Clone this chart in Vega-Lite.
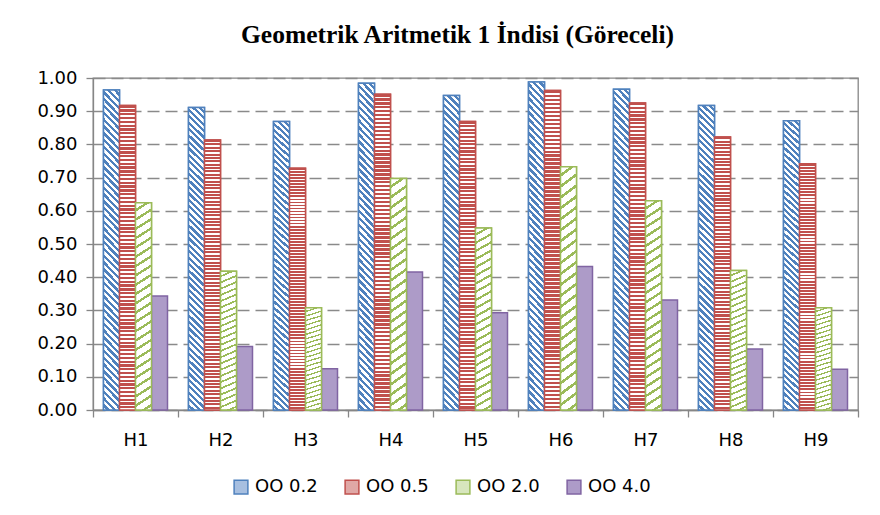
{
"$schema": "https://vega.github.io/schema/vega-lite/v6.json",
"width": 765, "height": 332,
"autosize": "none",
"padding": {"left": 93, "top": 78, "right": 22, "bottom": 105},
"background": "white",
"title": {"text": "Geometrik Aritmetik 1 İndisi (Göreceli)", "font": "Liberation Serif", "fontSize": 25.5, "fontWeight": "bold", "color": "black", "anchor": "middle", "dx": -18, "offset": 21},
"data": {"values": [
{"h":"H1","s":"OO 0.2","v":0.964},{"h":"H1","s":"OO 0.5","v":0.917},{"h":"H1","s":"OO 2.0","v":0.624},{"h":"H1","s":"OO 4.0","v":0.343},
{"h":"H2","s":"OO 0.2","v":0.911},{"h":"H2","s":"OO 0.5","v":0.813},{"h":"H2","s":"OO 2.0","v":0.418},{"h":"H2","s":"OO 4.0","v":0.191},
{"h":"H3","s":"OO 0.2","v":0.869},{"h":"H3","s":"OO 0.5","v":0.728},{"h":"H3","s":"OO 2.0","v":0.308},{"h":"H3","s":"OO 4.0","v":0.124},
{"h":"H4","s":"OO 0.2","v":0.984},{"h":"H4","s":"OO 0.5","v":0.951},{"h":"H4","s":"OO 2.0","v":0.697},{"h":"H4","s":"OO 4.0","v":0.416},
{"h":"H5","s":"OO 0.2","v":0.947},{"h":"H5","s":"OO 0.5","v":0.869},{"h":"H5","s":"OO 2.0","v":0.548},{"h":"H5","s":"OO 4.0","v":0.293},
{"h":"H6","s":"OO 0.2","v":0.988},{"h":"H6","s":"OO 0.5","v":0.962},{"h":"H6","s":"OO 2.0","v":0.733},{"h":"H6","s":"OO 4.0","v":0.432},
{"h":"H7","s":"OO 0.2","v":0.966},{"h":"H7","s":"OO 0.5","v":0.925},{"h":"H7","s":"OO 2.0","v":0.630},{"h":"H7","s":"OO 4.0","v":0.331},
{"h":"H8","s":"OO 0.2","v":0.917},{"h":"H8","s":"OO 0.5","v":0.822},{"h":"H8","s":"OO 2.0","v":0.420},{"h":"H8","s":"OO 4.0","v":0.184},
{"h":"H9","s":"OO 0.2","v":0.871},{"h":"H9","s":"OO 0.5","v":0.742},{"h":"H9","s":"OO 2.0","v":0.308},{"h":"H9","s":"OO 4.0","v":0.123}
]},
"encoding": {
"x": {"field": "h", "type": "nominal", "title": null, "scale": {"paddingInner": 0, "paddingOuter": 0},
 "axis": {"labelAngle": 0, "tickBand": "extent", "labelPadding": 14, "tickSize": 7, "domainColor": "#868686", "tickColor": "#868686", "domainWidth": 1.3, "tickWidth": 1.3, "labelFont": "DejaVu Sans", "labelFontSize": 18, "labelColor": "black", "grid": false}},
"xOffset": {"field": "s", "type": "nominal", "scale": {"domain": ["OO 0.2","OO 0.5","OO 2.0","OO 4.0"], "paddingInner": 0, "paddingOuter": 0.656}},
"y": {"field": "v", "type": "quantitative", "title": null, "scale": {"domain": [0, 1], "nice": false},
 "axis": {"values": [0,0.1,0.2,0.3,0.4,0.5,0.6,0.7,0.8,0.9,1], "format": ".2f", "grid": true, "gridDash": [12, 6], "gridColor": "#8a8a8a", "gridWidth": 1.5, "tickSize": 7, "labelPadding": 9, "domainColor": "#868686", "tickColor": "#868686", "domainWidth": 1.3, "tickWidth": 1.3, "labelFont": "DejaVu Sans", "labelFontSize": 18, "labelColor": "black"}}
},
"layer": [
{"mark": {"type": "bar", "strokeWidth": 1.5},
 "encoding": {
  "fill": {"field": "s", "type": "nominal", "scale": {"domain": ["OO 0.2","OO 0.5","OO 2.0","OO 4.0"], "range": ["#a7bfe0","#e0a8a6","#d7e6bd","#ad9bc8"]},
   "legend": {"title": null, "orient": "none", "legendX": 139, "legendY": 400, "direction": "horizontal", "symbolType": "square", "symbolSize": 190, "symbolStrokeWidth": 1.5, "labelFont": "DejaVu Sans", "labelFontSize": 18, "labelColor": "black", "columnPadding": 24, "labelOffset": 5}},
  "stroke": {"field": "s", "type": "nominal", "scale": {"domain": ["OO 0.2","OO 0.5","OO 2.0","OO 4.0"], "range": ["#4f81bd","#c0504d","#9bbb59","#8064a2"]},
   "legend": {"title": null, "orient": "none", "legendX": 139, "legendY": 400, "direction": "horizontal", "symbolType": "square", "symbolSize": 190, "symbolStrokeWidth": 1.5, "labelFont": "DejaVu Sans", "labelFontSize": 18, "labelColor": "black", "columnPadding": 24, "labelOffset": 5}}
 }},
{"transform": [{"filter": "datum.s === 'OO 0.2'"}],
 "mark": {"type": "bar", "strokeWidth": 1.5, "stroke": "#4f81bd", "fill": {"gradient": "linear", "x1": 0.055, "y1": -0.06, "x2": 0, "y2": 1, "stops": [
{"offset":0,"color":"#4f81bd"},{"offset":0.01,"color":"#4f81bd"},{"offset":0.01,"color":"#fff"},{"offset":0.02,"color":"#fff"},
{"offset":0.02,"color":"#4f81bd"},{"offset":0.03,"color":"#4f81bd"},{"offset":0.03,"color":"#fff"},{"offset":0.04,"color":"#fff"},
{"offset":0.04,"color":"#4f81bd"},{"offset":0.05,"color":"#4f81bd"},{"offset":0.05,"color":"#fff"},{"offset":0.06,"color":"#fff"},
{"offset":0.06,"color":"#4f81bd"},{"offset":0.07,"color":"#4f81bd"},{"offset":0.07,"color":"#fff"},{"offset":0.08,"color":"#fff"},
{"offset":0.08,"color":"#4f81bd"},{"offset":0.09,"color":"#4f81bd"},{"offset":0.09,"color":"#fff"},{"offset":0.10,"color":"#fff"},
{"offset":0.10,"color":"#4f81bd"},{"offset":0.11,"color":"#4f81bd"},{"offset":0.11,"color":"#fff"},{"offset":0.12,"color":"#fff"},
{"offset":0.12,"color":"#4f81bd"},{"offset":0.13,"color":"#4f81bd"},{"offset":0.13,"color":"#fff"},{"offset":0.14,"color":"#fff"},
{"offset":0.14,"color":"#4f81bd"},{"offset":0.15,"color":"#4f81bd"},{"offset":0.15,"color":"#fff"},{"offset":0.16,"color":"#fff"},
{"offset":0.16,"color":"#4f81bd"},{"offset":0.17,"color":"#4f81bd"},{"offset":0.17,"color":"#fff"},{"offset":0.18,"color":"#fff"},
{"offset":0.18,"color":"#4f81bd"},{"offset":0.19,"color":"#4f81bd"},{"offset":0.19,"color":"#fff"},{"offset":0.20,"color":"#fff"},
{"offset":0.20,"color":"#4f81bd"},{"offset":0.21,"color":"#4f81bd"},{"offset":0.21,"color":"#fff"},{"offset":0.22,"color":"#fff"},
{"offset":0.22,"color":"#4f81bd"},{"offset":0.23,"color":"#4f81bd"},{"offset":0.23,"color":"#fff"},{"offset":0.24,"color":"#fff"},
{"offset":0.24,"color":"#4f81bd"},{"offset":0.25,"color":"#4f81bd"},{"offset":0.25,"color":"#fff"},{"offset":0.26,"color":"#fff"},
{"offset":0.26,"color":"#4f81bd"},{"offset":0.27,"color":"#4f81bd"},{"offset":0.27,"color":"#fff"},{"offset":0.28,"color":"#fff"},
{"offset":0.28,"color":"#4f81bd"},{"offset":0.29,"color":"#4f81bd"},{"offset":0.29,"color":"#fff"},{"offset":0.30,"color":"#fff"},
{"offset":0.30,"color":"#4f81bd"},{"offset":0.31,"color":"#4f81bd"},{"offset":0.31,"color":"#fff"},{"offset":0.32,"color":"#fff"},
{"offset":0.32,"color":"#4f81bd"},{"offset":0.33,"color":"#4f81bd"},{"offset":0.33,"color":"#fff"},{"offset":0.34,"color":"#fff"},
{"offset":0.34,"color":"#4f81bd"},{"offset":0.35,"color":"#4f81bd"},{"offset":0.35,"color":"#fff"},{"offset":0.36,"color":"#fff"},
{"offset":0.36,"color":"#4f81bd"},{"offset":0.37,"color":"#4f81bd"},{"offset":0.37,"color":"#fff"},{"offset":0.38,"color":"#fff"},
{"offset":0.38,"color":"#4f81bd"},{"offset":0.39,"color":"#4f81bd"},{"offset":0.39,"color":"#fff"},{"offset":0.40,"color":"#fff"},
{"offset":0.40,"color":"#4f81bd"},{"offset":0.41,"color":"#4f81bd"},{"offset":0.41,"color":"#fff"},{"offset":0.42,"color":"#fff"},
{"offset":0.42,"color":"#4f81bd"},{"offset":0.43,"color":"#4f81bd"},{"offset":0.43,"color":"#fff"},{"offset":0.44,"color":"#fff"},
{"offset":0.44,"color":"#4f81bd"},{"offset":0.45,"color":"#4f81bd"},{"offset":0.45,"color":"#fff"},{"offset":0.46,"color":"#fff"},
{"offset":0.46,"color":"#4f81bd"},{"offset":0.47,"color":"#4f81bd"},{"offset":0.47,"color":"#fff"},{"offset":0.48,"color":"#fff"},
{"offset":0.48,"color":"#4f81bd"},{"offset":0.49,"color":"#4f81bd"},{"offset":0.49,"color":"#fff"},{"offset":0.50,"color":"#fff"},
{"offset":0.50,"color":"#4f81bd"},{"offset":0.51,"color":"#4f81bd"},{"offset":0.51,"color":"#fff"},{"offset":0.52,"color":"#fff"},
{"offset":0.52,"color":"#4f81bd"},{"offset":0.53,"color":"#4f81bd"},{"offset":0.53,"color":"#fff"},{"offset":0.54,"color":"#fff"},
{"offset":0.54,"color":"#4f81bd"},{"offset":0.55,"color":"#4f81bd"},{"offset":0.55,"color":"#fff"},{"offset":0.56,"color":"#fff"},
{"offset":0.56,"color":"#4f81bd"},{"offset":0.57,"color":"#4f81bd"},{"offset":0.57,"color":"#fff"},{"offset":0.58,"color":"#fff"},
{"offset":0.58,"color":"#4f81bd"},{"offset":0.59,"color":"#4f81bd"},{"offset":0.59,"color":"#fff"},{"offset":0.60,"color":"#fff"},
{"offset":0.60,"color":"#4f81bd"},{"offset":0.61,"color":"#4f81bd"},{"offset":0.61,"color":"#fff"},{"offset":0.62,"color":"#fff"},
{"offset":0.62,"color":"#4f81bd"},{"offset":0.63,"color":"#4f81bd"},{"offset":0.63,"color":"#fff"},{"offset":0.64,"color":"#fff"},
{"offset":0.64,"color":"#4f81bd"},{"offset":0.65,"color":"#4f81bd"},{"offset":0.65,"color":"#fff"},{"offset":0.66,"color":"#fff"},
{"offset":0.66,"color":"#4f81bd"},{"offset":0.67,"color":"#4f81bd"},{"offset":0.67,"color":"#fff"},{"offset":0.68,"color":"#fff"},
{"offset":0.68,"color":"#4f81bd"},{"offset":0.69,"color":"#4f81bd"},{"offset":0.69,"color":"#fff"},{"offset":0.70,"color":"#fff"},
{"offset":0.70,"color":"#4f81bd"},{"offset":0.71,"color":"#4f81bd"},{"offset":0.71,"color":"#fff"},{"offset":0.72,"color":"#fff"},
{"offset":0.72,"color":"#4f81bd"},{"offset":0.73,"color":"#4f81bd"},{"offset":0.73,"color":"#fff"},{"offset":0.74,"color":"#fff"},
{"offset":0.74,"color":"#4f81bd"},{"offset":0.75,"color":"#4f81bd"},{"offset":0.75,"color":"#fff"},{"offset":0.76,"color":"#fff"},
{"offset":0.76,"color":"#4f81bd"},{"offset":0.77,"color":"#4f81bd"},{"offset":0.77,"color":"#fff"},{"offset":0.78,"color":"#fff"},
{"offset":0.78,"color":"#4f81bd"},{"offset":0.79,"color":"#4f81bd"},{"offset":0.79,"color":"#fff"},{"offset":0.80,"color":"#fff"},
{"offset":0.80,"color":"#4f81bd"},{"offset":0.81,"color":"#4f81bd"},{"offset":0.81,"color":"#fff"},{"offset":0.82,"color":"#fff"},
{"offset":0.82,"color":"#4f81bd"},{"offset":0.83,"color":"#4f81bd"},{"offset":0.83,"color":"#fff"},{"offset":0.84,"color":"#fff"},
{"offset":0.84,"color":"#4f81bd"},{"offset":0.85,"color":"#4f81bd"},{"offset":0.85,"color":"#fff"},{"offset":0.86,"color":"#fff"},
{"offset":0.86,"color":"#4f81bd"},{"offset":0.87,"color":"#4f81bd"},{"offset":0.87,"color":"#fff"},{"offset":0.88,"color":"#fff"},
{"offset":0.88,"color":"#4f81bd"},{"offset":0.89,"color":"#4f81bd"},{"offset":0.89,"color":"#fff"},{"offset":0.90,"color":"#fff"},
{"offset":0.90,"color":"#4f81bd"},{"offset":0.91,"color":"#4f81bd"},{"offset":0.91,"color":"#fff"},{"offset":0.92,"color":"#fff"},
{"offset":0.92,"color":"#4f81bd"},{"offset":0.93,"color":"#4f81bd"},{"offset":0.93,"color":"#fff"},{"offset":0.94,"color":"#fff"},
{"offset":0.94,"color":"#4f81bd"},{"offset":0.95,"color":"#4f81bd"},{"offset":0.95,"color":"#fff"},{"offset":0.96,"color":"#fff"},
{"offset":0.96,"color":"#4f81bd"},{"offset":0.97,"color":"#4f81bd"},{"offset":0.97,"color":"#fff"},{"offset":0.98,"color":"#fff"},
{"offset":0.98,"color":"#4f81bd"},{"offset":0.99,"color":"#4f81bd"},{"offset":0.99,"color":"#fff"},{"offset":1,"color":"#fff"}
]}}},
{"transform": [{"filter": "datum.s === 'OO 0.5'"}],
 "mark": {"type": "bar", "strokeWidth": 1.5, "stroke": "#c0504d", "fill": {"gradient": "linear", "x1": 0, "y1": 0, "x2": 0, "y2": 1, "stops": [
{"offset":0,"color":"#c0504d"},{"offset":0.0075,"color":"#c0504d"},{"offset":0.0075,"color":"#fff"},{"offset":0.0125,"color":"#fff"},
{"offset":0.0125,"color":"#c0504d"},{"offset":0.02,"color":"#c0504d"},{"offset":0.02,"color":"#fff"},{"offset":0.025,"color":"#fff"},
{"offset":0.025,"color":"#c0504d"},{"offset":0.0325,"color":"#c0504d"},{"offset":0.0325,"color":"#fff"},{"offset":0.0375,"color":"#fff"},
{"offset":0.0375,"color":"#c0504d"},{"offset":0.045,"color":"#c0504d"},{"offset":0.045,"color":"#fff"},{"offset":0.05,"color":"#fff"},
{"offset":0.05,"color":"#c0504d"},{"offset":0.0575,"color":"#c0504d"},{"offset":0.0575,"color":"#fff"},{"offset":0.0625,"color":"#fff"},
{"offset":0.0625,"color":"#c0504d"},{"offset":0.07,"color":"#c0504d"},{"offset":0.07,"color":"#fff"},{"offset":0.075,"color":"#fff"},
{"offset":0.075,"color":"#c0504d"},{"offset":0.0825,"color":"#c0504d"},{"offset":0.0825,"color":"#fff"},{"offset":0.0875,"color":"#fff"},
{"offset":0.0875,"color":"#c0504d"},{"offset":0.095,"color":"#c0504d"},{"offset":0.095,"color":"#fff"},{"offset":0.1,"color":"#fff"},
{"offset":0.1,"color":"#c0504d"},{"offset":0.1075,"color":"#c0504d"},{"offset":0.1075,"color":"#fff"},{"offset":0.1125,"color":"#fff"},
{"offset":0.1125,"color":"#c0504d"},{"offset":0.12,"color":"#c0504d"},{"offset":0.12,"color":"#fff"},{"offset":0.125,"color":"#fff"},
{"offset":0.125,"color":"#c0504d"},{"offset":0.1325,"color":"#c0504d"},{"offset":0.1325,"color":"#fff"},{"offset":0.1375,"color":"#fff"},
{"offset":0.1375,"color":"#c0504d"},{"offset":0.145,"color":"#c0504d"},{"offset":0.145,"color":"#fff"},{"offset":0.15,"color":"#fff"},
{"offset":0.15,"color":"#c0504d"},{"offset":0.1575,"color":"#c0504d"},{"offset":0.1575,"color":"#fff"},{"offset":0.1625,"color":"#fff"},
{"offset":0.1625,"color":"#c0504d"},{"offset":0.17,"color":"#c0504d"},{"offset":0.17,"color":"#fff"},{"offset":0.175,"color":"#fff"},
{"offset":0.175,"color":"#c0504d"},{"offset":0.1825,"color":"#c0504d"},{"offset":0.1825,"color":"#fff"},{"offset":0.1875,"color":"#fff"},
{"offset":0.1875,"color":"#c0504d"},{"offset":0.195,"color":"#c0504d"},{"offset":0.195,"color":"#fff"},{"offset":0.2,"color":"#fff"},
{"offset":0.2,"color":"#c0504d"},{"offset":0.2075,"color":"#c0504d"},{"offset":0.2075,"color":"#fff"},{"offset":0.2125,"color":"#fff"},
{"offset":0.2125,"color":"#c0504d"},{"offset":0.22,"color":"#c0504d"},{"offset":0.22,"color":"#fff"},{"offset":0.225,"color":"#fff"},
{"offset":0.225,"color":"#c0504d"},{"offset":0.2325,"color":"#c0504d"},{"offset":0.2325,"color":"#fff"},{"offset":0.2375,"color":"#fff"},
{"offset":0.2375,"color":"#c0504d"},{"offset":0.245,"color":"#c0504d"},{"offset":0.245,"color":"#fff"},{"offset":0.25,"color":"#fff"},
{"offset":0.25,"color":"#c0504d"},{"offset":0.2575,"color":"#c0504d"},{"offset":0.2575,"color":"#fff"},{"offset":0.2625,"color":"#fff"},
{"offset":0.2625,"color":"#c0504d"},{"offset":0.27,"color":"#c0504d"},{"offset":0.27,"color":"#fff"},{"offset":0.275,"color":"#fff"},
{"offset":0.275,"color":"#c0504d"},{"offset":0.2825,"color":"#c0504d"},{"offset":0.2825,"color":"#fff"},{"offset":0.2875,"color":"#fff"},
{"offset":0.2875,"color":"#c0504d"},{"offset":0.295,"color":"#c0504d"},{"offset":0.295,"color":"#fff"},{"offset":0.3,"color":"#fff"},
{"offset":0.3,"color":"#c0504d"},{"offset":0.3075,"color":"#c0504d"},{"offset":0.3075,"color":"#fff"},{"offset":0.3125,"color":"#fff"},
{"offset":0.3125,"color":"#c0504d"},{"offset":0.32,"color":"#c0504d"},{"offset":0.32,"color":"#fff"},{"offset":0.325,"color":"#fff"},
{"offset":0.325,"color":"#c0504d"},{"offset":0.3325,"color":"#c0504d"},{"offset":0.3325,"color":"#fff"},{"offset":0.3375,"color":"#fff"},
{"offset":0.3375,"color":"#c0504d"},{"offset":0.345,"color":"#c0504d"},{"offset":0.345,"color":"#fff"},{"offset":0.35,"color":"#fff"},
{"offset":0.35,"color":"#c0504d"},{"offset":0.3575,"color":"#c0504d"},{"offset":0.3575,"color":"#fff"},{"offset":0.3625,"color":"#fff"},
{"offset":0.3625,"color":"#c0504d"},{"offset":0.37,"color":"#c0504d"},{"offset":0.37,"color":"#fff"},{"offset":0.375,"color":"#fff"},
{"offset":0.375,"color":"#c0504d"},{"offset":0.3825,"color":"#c0504d"},{"offset":0.3825,"color":"#fff"},{"offset":0.3875,"color":"#fff"},
{"offset":0.3875,"color":"#c0504d"},{"offset":0.395,"color":"#c0504d"},{"offset":0.395,"color":"#fff"},{"offset":0.4,"color":"#fff"},
{"offset":0.4,"color":"#c0504d"},{"offset":0.4075,"color":"#c0504d"},{"offset":0.4075,"color":"#fff"},{"offset":0.4125,"color":"#fff"},
{"offset":0.4125,"color":"#c0504d"},{"offset":0.42,"color":"#c0504d"},{"offset":0.42,"color":"#fff"},{"offset":0.425,"color":"#fff"},
{"offset":0.425,"color":"#c0504d"},{"offset":0.4325,"color":"#c0504d"},{"offset":0.4325,"color":"#fff"},{"offset":0.4375,"color":"#fff"},
{"offset":0.4375,"color":"#c0504d"},{"offset":0.445,"color":"#c0504d"},{"offset":0.445,"color":"#fff"},{"offset":0.45,"color":"#fff"},
{"offset":0.45,"color":"#c0504d"},{"offset":0.4575,"color":"#c0504d"},{"offset":0.4575,"color":"#fff"},{"offset":0.4625,"color":"#fff"},
{"offset":0.4625,"color":"#c0504d"},{"offset":0.47,"color":"#c0504d"},{"offset":0.47,"color":"#fff"},{"offset":0.475,"color":"#fff"},
{"offset":0.475,"color":"#c0504d"},{"offset":0.4825,"color":"#c0504d"},{"offset":0.4825,"color":"#fff"},{"offset":0.4875,"color":"#fff"},
{"offset":0.4875,"color":"#c0504d"},{"offset":0.495,"color":"#c0504d"},{"offset":0.495,"color":"#fff"},{"offset":0.5,"color":"#fff"},
{"offset":0.5,"color":"#c0504d"},{"offset":0.5075,"color":"#c0504d"},{"offset":0.5075,"color":"#fff"},{"offset":0.5125,"color":"#fff"},
{"offset":0.5125,"color":"#c0504d"},{"offset":0.52,"color":"#c0504d"},{"offset":0.52,"color":"#fff"},{"offset":0.525,"color":"#fff"},
{"offset":0.525,"color":"#c0504d"},{"offset":0.5325,"color":"#c0504d"},{"offset":0.5325,"color":"#fff"},{"offset":0.5375,"color":"#fff"},
{"offset":0.5375,"color":"#c0504d"},{"offset":0.545,"color":"#c0504d"},{"offset":0.545,"color":"#fff"},{"offset":0.55,"color":"#fff"},
{"offset":0.55,"color":"#c0504d"},{"offset":0.5575,"color":"#c0504d"},{"offset":0.5575,"color":"#fff"},{"offset":0.5625,"color":"#fff"},
{"offset":0.5625,"color":"#c0504d"},{"offset":0.57,"color":"#c0504d"},{"offset":0.57,"color":"#fff"},{"offset":0.575,"color":"#fff"},
{"offset":0.575,"color":"#c0504d"},{"offset":0.5825,"color":"#c0504d"},{"offset":0.5825,"color":"#fff"},{"offset":0.5875,"color":"#fff"},
{"offset":0.5875,"color":"#c0504d"},{"offset":0.595,"color":"#c0504d"},{"offset":0.595,"color":"#fff"},{"offset":0.6,"color":"#fff"},
{"offset":0.6,"color":"#c0504d"},{"offset":0.6075,"color":"#c0504d"},{"offset":0.6075,"color":"#fff"},{"offset":0.6125,"color":"#fff"},
{"offset":0.6125,"color":"#c0504d"},{"offset":0.62,"color":"#c0504d"},{"offset":0.62,"color":"#fff"},{"offset":0.625,"color":"#fff"},
{"offset":0.625,"color":"#c0504d"},{"offset":0.6325,"color":"#c0504d"},{"offset":0.6325,"color":"#fff"},{"offset":0.6375,"color":"#fff"},
{"offset":0.6375,"color":"#c0504d"},{"offset":0.645,"color":"#c0504d"},{"offset":0.645,"color":"#fff"},{"offset":0.65,"color":"#fff"},
{"offset":0.65,"color":"#c0504d"},{"offset":0.6575,"color":"#c0504d"},{"offset":0.6575,"color":"#fff"},{"offset":0.6625,"color":"#fff"},
{"offset":0.6625,"color":"#c0504d"},{"offset":0.67,"color":"#c0504d"},{"offset":0.67,"color":"#fff"},{"offset":0.675,"color":"#fff"},
{"offset":0.675,"color":"#c0504d"},{"offset":0.6825,"color":"#c0504d"},{"offset":0.6825,"color":"#fff"},{"offset":0.6875,"color":"#fff"},
{"offset":0.6875,"color":"#c0504d"},{"offset":0.695,"color":"#c0504d"},{"offset":0.695,"color":"#fff"},{"offset":0.7,"color":"#fff"},
{"offset":0.7,"color":"#c0504d"},{"offset":0.7075,"color":"#c0504d"},{"offset":0.7075,"color":"#fff"},{"offset":0.7125,"color":"#fff"},
{"offset":0.7125,"color":"#c0504d"},{"offset":0.72,"color":"#c0504d"},{"offset":0.72,"color":"#fff"},{"offset":0.725,"color":"#fff"},
{"offset":0.725,"color":"#c0504d"},{"offset":0.7325,"color":"#c0504d"},{"offset":0.7325,"color":"#fff"},{"offset":0.7375,"color":"#fff"},
{"offset":0.7375,"color":"#c0504d"},{"offset":0.745,"color":"#c0504d"},{"offset":0.745,"color":"#fff"},{"offset":0.75,"color":"#fff"},
{"offset":0.75,"color":"#c0504d"},{"offset":0.7575,"color":"#c0504d"},{"offset":0.7575,"color":"#fff"},{"offset":0.7625,"color":"#fff"},
{"offset":0.7625,"color":"#c0504d"},{"offset":0.77,"color":"#c0504d"},{"offset":0.77,"color":"#fff"},{"offset":0.775,"color":"#fff"},
{"offset":0.775,"color":"#c0504d"},{"offset":0.7825,"color":"#c0504d"},{"offset":0.7825,"color":"#fff"},{"offset":0.7875,"color":"#fff"},
{"offset":0.7875,"color":"#c0504d"},{"offset":0.795,"color":"#c0504d"},{"offset":0.795,"color":"#fff"},{"offset":0.8,"color":"#fff"},
{"offset":0.8,"color":"#c0504d"},{"offset":0.8075,"color":"#c0504d"},{"offset":0.8075,"color":"#fff"},{"offset":0.8125,"color":"#fff"},
{"offset":0.8125,"color":"#c0504d"},{"offset":0.82,"color":"#c0504d"},{"offset":0.82,"color":"#fff"},{"offset":0.825,"color":"#fff"},
{"offset":0.825,"color":"#c0504d"},{"offset":0.8325,"color":"#c0504d"},{"offset":0.8325,"color":"#fff"},{"offset":0.8375,"color":"#fff"},
{"offset":0.8375,"color":"#c0504d"},{"offset":0.845,"color":"#c0504d"},{"offset":0.845,"color":"#fff"},{"offset":0.85,"color":"#fff"},
{"offset":0.85,"color":"#c0504d"},{"offset":0.8575,"color":"#c0504d"},{"offset":0.8575,"color":"#fff"},{"offset":0.8625,"color":"#fff"},
{"offset":0.8625,"color":"#c0504d"},{"offset":0.87,"color":"#c0504d"},{"offset":0.87,"color":"#fff"},{"offset":0.875,"color":"#fff"},
{"offset":0.875,"color":"#c0504d"},{"offset":0.8825,"color":"#c0504d"},{"offset":0.8825,"color":"#fff"},{"offset":0.8875,"color":"#fff"},
{"offset":0.8875,"color":"#c0504d"},{"offset":0.895,"color":"#c0504d"},{"offset":0.895,"color":"#fff"},{"offset":0.9,"color":"#fff"},
{"offset":0.9,"color":"#c0504d"},{"offset":0.9075,"color":"#c0504d"},{"offset":0.9075,"color":"#fff"},{"offset":0.9125,"color":"#fff"},
{"offset":0.9125,"color":"#c0504d"},{"offset":0.92,"color":"#c0504d"},{"offset":0.92,"color":"#fff"},{"offset":0.925,"color":"#fff"},
{"offset":0.925,"color":"#c0504d"},{"offset":0.9325,"color":"#c0504d"},{"offset":0.9325,"color":"#fff"},{"offset":0.9375,"color":"#fff"},
{"offset":0.9375,"color":"#c0504d"},{"offset":0.945,"color":"#c0504d"},{"offset":0.945,"color":"#fff"},{"offset":0.95,"color":"#fff"},
{"offset":0.95,"color":"#c0504d"},{"offset":0.9575,"color":"#c0504d"},{"offset":0.9575,"color":"#fff"},{"offset":0.9625,"color":"#fff"},
{"offset":0.9625,"color":"#c0504d"},{"offset":0.97,"color":"#c0504d"},{"offset":0.97,"color":"#fff"},{"offset":0.975,"color":"#fff"},
{"offset":0.975,"color":"#c0504d"},{"offset":0.9825,"color":"#c0504d"},{"offset":0.9825,"color":"#fff"},{"offset":0.9875,"color":"#fff"},
{"offset":0.9875,"color":"#c0504d"},{"offset":0.995,"color":"#c0504d"},{"offset":0.995,"color":"#fff"},{"offset":1,"color":"#fff"}
]}}},
{"transform": [{"filter": "datum.s === 'OO 2.0'"}],
 "mark": {"type": "bar", "strokeWidth": 1.5, "stroke": "#9bbb59", "fill": {"gradient": "linear", "x1": 0, "y1": -0.06, "x2": 0.055, "y2": 1.06, "stops": [
{"offset":0,"color":"#9bbb59"},{"offset":0.012,"color":"#9bbb59"},{"offset":0.012,"color":"#fff"},{"offset":0.04,"color":"#fff"},
{"offset":0.04,"color":"#9bbb59"},{"offset":0.052,"color":"#9bbb59"},{"offset":0.052,"color":"#fff"},{"offset":0.08,"color":"#fff"},
{"offset":0.08,"color":"#9bbb59"},{"offset":0.092,"color":"#9bbb59"},{"offset":0.092,"color":"#fff"},{"offset":0.12,"color":"#fff"},
{"offset":0.12,"color":"#9bbb59"},{"offset":0.132,"color":"#9bbb59"},{"offset":0.132,"color":"#fff"},{"offset":0.16,"color":"#fff"},
{"offset":0.16,"color":"#9bbb59"},{"offset":0.172,"color":"#9bbb59"},{"offset":0.172,"color":"#fff"},{"offset":0.2,"color":"#fff"},
{"offset":0.2,"color":"#9bbb59"},{"offset":0.212,"color":"#9bbb59"},{"offset":0.212,"color":"#fff"},{"offset":0.24,"color":"#fff"},
{"offset":0.24,"color":"#9bbb59"},{"offset":0.252,"color":"#9bbb59"},{"offset":0.252,"color":"#fff"},{"offset":0.28,"color":"#fff"},
{"offset":0.28,"color":"#9bbb59"},{"offset":0.292,"color":"#9bbb59"},{"offset":0.292,"color":"#fff"},{"offset":0.32,"color":"#fff"},
{"offset":0.32,"color":"#9bbb59"},{"offset":0.332,"color":"#9bbb59"},{"offset":0.332,"color":"#fff"},{"offset":0.36,"color":"#fff"},
{"offset":0.36,"color":"#9bbb59"},{"offset":0.372,"color":"#9bbb59"},{"offset":0.372,"color":"#fff"},{"offset":0.4,"color":"#fff"},
{"offset":0.4,"color":"#9bbb59"},{"offset":0.412,"color":"#9bbb59"},{"offset":0.412,"color":"#fff"},{"offset":0.44,"color":"#fff"},
{"offset":0.44,"color":"#9bbb59"},{"offset":0.452,"color":"#9bbb59"},{"offset":0.452,"color":"#fff"},{"offset":0.48,"color":"#fff"},
{"offset":0.48,"color":"#9bbb59"},{"offset":0.492,"color":"#9bbb59"},{"offset":0.492,"color":"#fff"},{"offset":0.52,"color":"#fff"},
{"offset":0.52,"color":"#9bbb59"},{"offset":0.532,"color":"#9bbb59"},{"offset":0.532,"color":"#fff"},{"offset":0.56,"color":"#fff"},
{"offset":0.56,"color":"#9bbb59"},{"offset":0.572,"color":"#9bbb59"},{"offset":0.572,"color":"#fff"},{"offset":0.6,"color":"#fff"},
{"offset":0.6,"color":"#9bbb59"},{"offset":0.612,"color":"#9bbb59"},{"offset":0.612,"color":"#fff"},{"offset":0.64,"color":"#fff"},
{"offset":0.64,"color":"#9bbb59"},{"offset":0.652,"color":"#9bbb59"},{"offset":0.652,"color":"#fff"},{"offset":0.68,"color":"#fff"},
{"offset":0.68,"color":"#9bbb59"},{"offset":0.692,"color":"#9bbb59"},{"offset":0.692,"color":"#fff"},{"offset":0.72,"color":"#fff"},
{"offset":0.72,"color":"#9bbb59"},{"offset":0.732,"color":"#9bbb59"},{"offset":0.732,"color":"#fff"},{"offset":0.76,"color":"#fff"},
{"offset":0.76,"color":"#9bbb59"},{"offset":0.772,"color":"#9bbb59"},{"offset":0.772,"color":"#fff"},{"offset":0.8,"color":"#fff"},
{"offset":0.8,"color":"#9bbb59"},{"offset":0.812,"color":"#9bbb59"},{"offset":0.812,"color":"#fff"},{"offset":0.84,"color":"#fff"},
{"offset":0.84,"color":"#9bbb59"},{"offset":0.852,"color":"#9bbb59"},{"offset":0.852,"color":"#fff"},{"offset":0.88,"color":"#fff"},
{"offset":0.88,"color":"#9bbb59"},{"offset":0.892,"color":"#9bbb59"},{"offset":0.892,"color":"#fff"},{"offset":0.92,"color":"#fff"},
{"offset":0.92,"color":"#9bbb59"},{"offset":0.932,"color":"#9bbb59"},{"offset":0.932,"color":"#fff"},{"offset":0.96,"color":"#fff"},
{"offset":0.96,"color":"#9bbb59"},{"offset":0.972,"color":"#9bbb59"},{"offset":0.972,"color":"#fff"},{"offset":1,"color":"#fff"}
]}}}
],
"config": {"view": {"stroke": "#868686", "strokeWidth": 1.3}}
}
